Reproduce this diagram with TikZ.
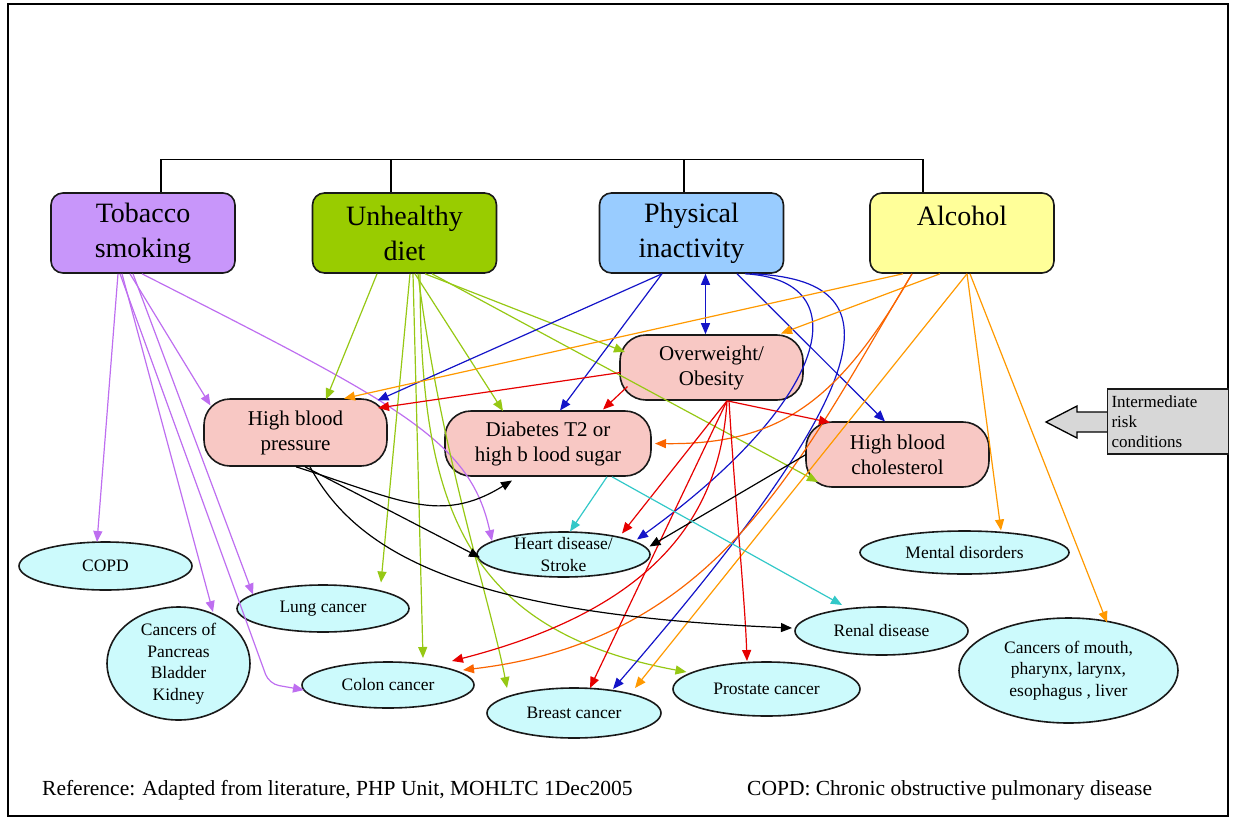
\documentclass[tikz,border=0pt]{standalone}
\usepackage{fontspec}
\setmainfont{Liberation Serif}
\usetikzlibrary{arrows.meta,shapes.geometric}
\definecolor{cTob}{RGB}{200,150,250}
\definecolor{cDiet}{RGB}{153,204,0}
\definecolor{cPhys}{RGB}{153,204,255}
\definecolor{cAlc}{RGB}{255,255,153}
\definecolor{cPink}{RGB}{248,200,196}
\definecolor{cEll}{RGB}{204,250,252}
\definecolor{cGray}{RGB}{215,215,215}
\definecolor{lPur}{RGB}{190,110,240}
\definecolor{lGrn}{RGB}{150,200,20}
\definecolor{lBlu}{RGB}{20,20,200}
\definecolor{lOra}{RGB}{255,153,0}
\definecolor{lOrR}{RGB}{250,100,0}
\definecolor{lRed}{RGB}{230,0,0}
\definecolor{lCya}{RGB}{50,200,200}
\begin{document}
\begin{tikzpicture}[x=1pt,y=-1pt,
  risk/.style={draw=black!90, line width=1.6pt, rounded corners=12pt, minimum width=184pt, minimum height=80pt, inner sep=0pt, align=center, font=\fontsize{28}{35}\selectfont},
  inter/.style={draw=black!90, line width=1.6pt, rounded corners=26pt, fill=cPink, minimum height=65pt, inner sep=0pt, align=center, font=\fontsize{21}{25}\selectfont},
  dis/.style={ellipse, draw=black!90, line width=1.6pt, fill=cEll, inner xsep=0pt, inner ysep=-8pt, align=center, font=\fontsize{17.5}{21.5}\selectfont},
  conn/.style={line width=1.2pt, -{Triangle[length=11pt,width=9pt]}},
  note/.style={anchor=west, inner sep=0pt, font=\fontsize{21.5}{24}\selectfont}
]
\useasboundingbox (0,0) rectangle (1235,820);
\draw[line width=1.5pt] (8,4) rectangle (1228,816);

% risk factors
\node[risk,fill=cTob] (tob) at (143,233) {Tobacco\\smoking};
\node[risk,fill=cDiet] (diet) at (404.5,233) {Unhealthy\\diet};
\node[risk,fill=cPhys] (phys) at (691.5,233) {Physical\\inactivity};
\node[risk,fill=cAlc] (alc) at (962,233) {Alcohol\\\mbox{}};

\draw[line width=1.3pt] ([xshift=18]tob.north) -- ++(0,-33) -| ([xshift=-39]alc.north);
\draw[line width=1.3pt] ([xshift=-13.5]diet.north) -- ++(0,-33);
\draw[line width=1.3pt] ([xshift=-7.5]phys.north) -- ++(0,-33);

% intermediate conditions
\node[inter,minimum width=183pt] (ow) at (711.5,367.5) {Overweight/\\Obesity};
\node[inter,minimum width=183pt,minimum height=67pt] (hbp) at (295.5,432.5) {High blood\\pressure};
\node[inter,minimum width=206pt] (diab) at (548,443.5) {Diabetes T2 or\\high b lood sugar};
\node[inter,minimum width=183pt] (chol) at (897.5,454.5) {High blood\\cholesterol};

% diseases
\node[dis,minimum width=173pt,minimum height=48pt] (copd) at (105.5,566) {COPD};
\node[dis,minimum width=143pt,minimum height=113pt] (panc) at (178.5,663.5) {Cancers of\\Pancreas\\Bladder\\Kidney};
\node[dis,minimum width=172pt,minimum height=47pt] (lung) at (323,608.5) {Lung cancer};
\node[dis,minimum width=172pt,minimum height=46pt] (colon) at (388,685) {Colon cancer};
\node[dis,minimum width=173pt,minimum height=45pt] (heart) at (563.5,554.5) {Heart disease/\\Stroke};
\node[dis,minimum width=174pt,minimum height=50pt] (breast) at (574,713) {Breast cancer};
\node[dis,minimum width=187pt,minimum height=54pt] (prost) at (766.5,689) {Prostate cancer};
\node[dis,minimum width=173pt,minimum height=48pt] (renal) at (881.5,631) {Renal disease};
\node[dis,minimum width=209pt,minimum height=43pt] (mental) at (964.5,552.5) {Mental disorders};
\node[dis,minimum width=219pt,minimum height=105pt] (mouth) at (1068.5,670.5) {Cancers of mouth,\\pharynx, larynx,\\esophagus , liver};

% intermediate risk label
\draw[line width=1.3pt, fill=cGray] (1108,412) -- (1077,412) -- (1077,406) -- (1046,422) -- (1077,438) -- (1077,432) -- (1108,432);
\node[draw=black!90, line width=1.3pt, fill=cGray, minimum width=120pt, minimum height=65pt, text width=113pt, inner xsep=4pt, inner ysep=0pt, align=left, font=\fontsize{17}{20}\selectfont] (irc) at (1168,421.5) {Intermediate\\risk\\conditions};

% tobacco
\draw[conn,lPur] ([shift={(-25,0)}]tob.south) -- ([shift={(-8.5,-24)}]copd.center);
\draw[conn,lPur] ([shift={(-21,0)}]tob.south) -- ([shift={(34.5,-51.5)}]panc.center);
\draw[conn,lPur] ([shift={(-10,0)}]tob.south) -- ([shift={(-70,-14)}]lung.center);
\draw[conn,lPur,rounded corners=10pt] ([shift={(-23,0)}]tob.south) -- ++(149,410) -- ([shift={(-84,5)}]colon.center);
\draw[conn,lPur] ([shift={(-13,0)}]tob.south) -- ([shift={(-85,-27)}]hbp.center);
\draw[conn,lPur] ([shift={(-1,0)}]tob.south) .. controls (400,405) and (470,440) .. ([shift={(-71.5,-13.5)}]heart.center);

% unhealthy diet
\draw[conn,lGrn] ([shift={(-27.5,0)}]diet.south) -- ([shift={(30.5,-33)}]hbp.center);
\draw[conn,lGrn] ([shift={(10.5,0)}]diet.south) -- ([shift={(-45,-32.5)}]diab.center);
\draw[conn,lGrn] ([shift={(20.5,0)}]diet.south) -- ([shift={(-86.5,-15.5)}]ow.center);
\draw[conn,lGrn] ([shift={(27.5,0)}]diet.south) -- ([shift={(-79.5,27.5)}]chol.center);
\draw[conn,lGrn] ([shift={(5.5,0)}]diet.south) -- ([shift={(58,-26)}]lung.center);
\draw[conn,lGrn] ([shift={(8.5,0)}]diet.south) -- ([shift={(35,-27)}]colon.center);
\draw[conn,lGrn] ([shift={(13.5,0)}]diet.south) .. controls (440,450) and (490,600) .. ([shift={(-67,-25)}]breast.center);
\draw[conn,lGrn] ([shift={(15.5,0)}]diet.south) .. controls (420,500) and (460,630) .. ([shift={(-80,-17)}]prost.center);

% physical inactivity
\draw[line width=1.2pt,lBlu,{Triangle[length=11pt,width=9pt]}-{Triangle[length=11pt,width=9pt]}] ([shift={(14,0)}]phys.south) -- ([shift={(-6,0)}]ow.north);
\draw[conn,lBlu] ([shift={(-29.5,0)}]phys.south) -- ([shift={(82,-32)}]hbp.center);
\draw[conn,lBlu] ([shift={(-29.5,0)}]phys.south) -- ([shift={(12,-33)}]diab.center);
\draw[conn,lBlu] ([shift={(45.5,0)}]phys.south) -- ([shift={(-12.5,-33)}]chol.center);
\draw[conn,lBlu] ([shift={(53.5,0)}]phys.south) .. controls (860,280) and (830,400) .. ([shift={(73.5,-15)}]heart.center);
\draw[conn,lBlu] ([shift={(60.5,0)}]phys.south) .. controls (900,280) and (880,380) .. ([shift={(39,-24)}]breast.center);

% alcohol
\draw[conn,lOra] ([shift={(-59,0)}]alc.south) -- ([shift={(48.5,-34)}]hbp.center);
\draw[conn,lOra] ([shift={(-22,0)}]alc.south) -- ([shift={(69.5,-34)}]ow.center);
\draw[conn,lOrR] ([shift={(-50,0)}]alc.south) .. controls (840,400) and (780,445) .. ([shift={(107,0)}]diab.center);
\draw[conn,lOrR] ([shift={(-50,0)}]alc.south) .. controls (800,460) and (720,640) .. ([shift={(75,-15)}]colon.center);
\draw[conn,lOra] ([shift={(5,0)}]alc.south) -- ([shift={(61,-25)}]breast.center);
\draw[conn,lOra] ([shift={(5,0)}]alc.south) -- ([shift={(36.5,-22)}]mental.center);
\draw[conn,lOra] ([shift={(8,0)}]alc.south) -- ([shift={(38.5,-48)}]mouth.center);

% overweight / obesity
\draw[conn,lRed] ([shift={(-91,5)}]ow.center) -- ([shift={(82.5,-24.5)}]hbp.center);
\draw[conn,lRed] ([shift={(-84,19)}]ow.center) -- ([shift={(55,-34)}]diab.center);
\draw[conn,lRed] ([shift={(15.5,0)}]ow.south) -- ([shift={(-67.5,-32)}]chol.center);
\draw[conn,lRed] ([shift={(15.5,0)}]ow.south) -- ([shift={(58.5,-21)}]heart.center);
\draw[conn,lRed] ([shift={(15.5,0)}]ow.south) .. controls (720,520) and (650,610) .. ([shift={(64,-24)}]colon.center);
\draw[conn,lRed] ([shift={(15.5,0)}]ow.south) -- ([shift={(16,-25)}]breast.center);
\draw[conn,lRed] ([shift={(17.5,0)}]ow.south) .. controls (735,500) and (745,600) .. ([shift={(-19.5,-28)}]prost.center);

% high blood pressure
\draw[conn,black] ([shift={(0.5,0)}]hbp.south) .. controls (400,500) and (440,525) .. ([shift={(-36,37)}]diab.center);
\draw[conn,black] ([shift={(9.5,0)}]hbp.south) -- ([shift={(-83.5,3)}]heart.center);
\draw[conn,black] ([shift={(14.5,0)}]hbp.south) .. controls (360,560) and (480,615) .. ([shift={(-89.5,-3)}]renal.center);

% high blood cholesterol
\draw[conn,black] ([shift={(-91.5,0)}]chol.center) -- ([shift={(86,-8)}]heart.center);

% diabetes
\draw[conn,lCya] ([shift={(59,0)}]diab.south) -- ([shift={(6.5,-23)}]heart.center);
\draw[conn,lCya] ([shift={(64,0)}]diab.south) -- ([shift={(-39.5,-26)}]renal.center);

% notes
\node[note] (refn) at (42,790) {Reference: Adapted from literature, PHP Unit, MOHLTC 1Dec2005};
\node[note] (copdn) at (747,790) {COPD: Chronic obstructive pulmonary disease};
\end{tikzpicture}
\end{document}
